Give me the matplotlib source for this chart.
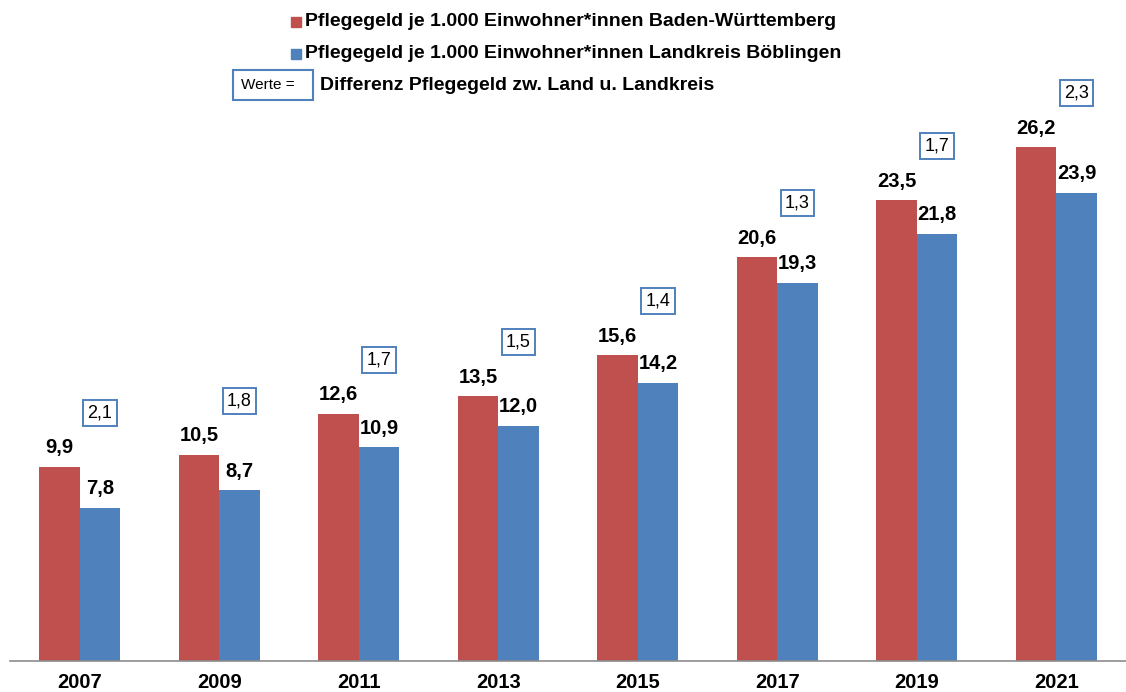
import numpy as np
import matplotlib.pyplot as plt
from matplotlib.patches import Rectangle

# Daten
jahre = ['2007', '2009', '2011', '2013', '2015', '2017', '2019', '2021']
bw = [9.9, 10.5, 12.6, 13.5, 15.6, 20.6, 23.5, 26.2]
bb = [7.8, 8.7, 10.9, 12.0, 14.2, 19.3, 21.8, 23.9]
differenz = [2.1, 1.8, 1.7, 1.5, 1.4, 1.3, 1.7, 2.3]

rot = '#C0504D'
blau = '#4F81BD'

plt.rcParams['font.family'] = ['Liberation Sans', 'DejaVu Sans']

fig = plt.figure(figsize=(11.26, 6.92), dpi=100)
ax = fig.add_axes([10 / 1126, 31 / 692, 1116 / 1126, 561 / 692])

x = np.arange(len(jahre))
w = 0.29
ax.bar(x - w / 2, bw, w, color=rot)
ax.bar(x + w / 2, bb, w, color=blau)

def fmt(v):
    return f'{v:.1f}'.replace('.', ',')

for i in range(len(jahre)):
    ax.annotate(fmt(bw[i]), (x[i] - w / 2, bw[i]), xytext=(0, 7), textcoords='offset points',
                ha='center', va='bottom', fontsize=14.5, fontweight='bold')
    ax.annotate(fmt(bb[i]), (x[i] + w / 2, bb[i]), xytext=(0, 7), textcoords='offset points',
                ha='center', va='bottom', fontsize=14.5, fontweight='bold')
    ax.annotate(fmt(differenz[i]), (x[i] + w / 2, bw[i]), xytext=(0, 39), textcoords='offset points',
                ha='center', va='center', fontsize=13,
                bbox=dict(boxstyle='square,pad=0.25', fc='white', ec=blau, lw=1.4))

ax.set_xlim(-0.5, len(jahre) - 0.5)
ax.set_ylim(0, 561 / 19.6)
ax.set_xticks(x)
ax.set_xticklabels(jahre, fontsize=14.5, fontweight='bold')
ax.tick_params(axis='x', length=0, pad=9)
ax.set_yticks([])
for s in ['top', 'right', 'left']:
    ax.spines[s].set_visible(False)
ax.spines['bottom'].set_color('#8C8C8C')
ax.spines['bottom'].set_linewidth(1.2)

# Legende
fig.patches.append(Rectangle((291 / 1126, 1 - 27 / 692), 10 / 1126, 10 / 692,
                             transform=fig.transFigure, color=rot))
fig.patches.append(Rectangle((291 / 1126, 1 - 59 / 692), 10 / 1126, 10 / 692,
                             transform=fig.transFigure, color=blau))
fig.text(305 / 1126, 1 - 21 / 692, 'Pflegegeld je 1.000 Einwohner*innen Baden-Württemberg',
         fontsize=14, fontweight='bold', va='center')
fig.text(305 / 1126, 1 - 53 / 692, 'Pflegegeld je 1.000 Einwohner*innen Landkreis Böblingen',
         fontsize=14, fontweight='bold', va='center')
fig.patches.append(Rectangle((233 / 1126, 1 - 100 / 692), 80 / 1126, 30 / 692,
                             transform=fig.transFigure, fc='white', ec=blau, lw=1.5))
fig.text(268 / 1126, 1 - 85 / 692, 'Werte =', fontsize=11, va='center', ha='center')
fig.text(320 / 1126, 1 - 85 / 692, 'Differenz Pflegegeld zw. Land u. Landkreis',
         fontsize=14, fontweight='bold', va='center')

fig.savefig('out.png', dpi=100)
